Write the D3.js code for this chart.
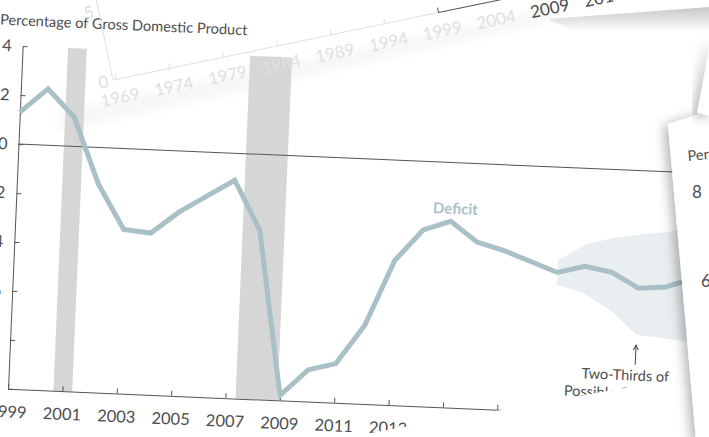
<!DOCTYPE html>
<html><head><meta charset="utf-8">
<script src="https://cdn.jsdelivr.net/npm/d3@7/dist/d3.min.js"></script>
<style>
html,body{margin:0;padding:0;background:#fff;overflow:hidden}
svg{display:block;font-family:Lato,"Open Sans",sans-serif}
</style></head><body>
<svg id="c" width="709" height="437"></svg>
<script>
// ---- data ----
const years   = [1999,2000,2001,2002,2003,2004,2005,2006,2007,2008,2009,2010,2011,2012,2013,2014,2015,2016,2017,2018,2019,2020,2021,2022,2023,2024];
const deficit = [1.3,2.3,1.2,-1.5,-3.3,-3.4,-2.5,-1.8,-1.1,-3.1,-9.8,-8.7,-8.4,-6.8,-4.1,-2.8,-2.4,-3.2,-3.5,-3.9,-4.3,-4.0,-4.2,-4.8,-4.7,-4.3];
const bandYears = [2019,2020,2021,2022,2023,2024];
const bandHigh  = [-3.8,-3.1,-2.8,-2.6,-2.45,-2.2];
const bandLow   = [-4.8,-5.1,-5.75,-6.7,-6.8,-6.9];
const recessionStart = [2000.67,2007.37];
const recessionEnd   = [2001.36,2008.91];
const xTicks = [1999,2001,2003,2005,2007,2009,2011,2013,2015,2017,2019,2021,2023,2025,2027];
const yTicks = [4,2,0,-2,-4,-6,-8,-10];
const backYears = [1969,1974,1979,1984,1989,1994,1999,2004,2009,2014];
const backYTicks = [0,5];

const svg = d3.select("#c");
const defs = svg.append("defs");
const f = defs.append("filter").attr("id","ds").attr("x","-30%").attr("y","-20%").attr("width","160%").attr("height","140%");
f.append("feDropShadow").attr("dx",-4).attr("dy",2).attr("stdDeviation",6).attr("flood-color","#000").attr("flood-opacity",0.3);
defs.append("filter").attr("id","bl").append("feGaussianBlur").attr("stdDeviation",5);

svg.append("rect").attr("width",709).attr("height",437).attr("fill","#fff");

// subtle tint of the sheet behind (top-left)
svg.append("path").attr("d","M58,132 L550,22 L550,8 L58,112 Z")
  .attr("fill","#000").attr("opacity",0.03).attr("filter","url(#bl)");

// ---- main chart ----
const g = svg.append("g").attr("transform","translate(18.5,144) rotate(2.45)");
const x = d3.scaleLinear().domain([1999,2029]).range([0,30*27.2]);
const y = d3.scaleLinear().domain([-10,4]).range([245,-98]);
const txt = "#4d4d4d";

// recession bars
g.selectAll("rect.rec").data(recessionStart).join("rect")
  .attr("x",(d)=>x(d)).attr("y",y(4))
  .attr("width",(d,i)=>x(recessionEnd[i])-x(d))
  .attr("height",y(-10)-y(4)).attr("fill","#d6d6d6");

// band
const band = bandYears.map((yr,i)=>({yr,hi:bandHigh[i],lo:bandLow[i]}));
g.append("path").datum(band)
  .attr("d",d3.area().x(d=>x(d.yr)).y0(d=>y(d.lo)).y1(d=>y(d.hi)).curve(d3.curveLinear))
  .attr("fill","#e9eef0");

// zero line
g.append("line").attr("x1",x(1999)).attr("x2",x(2027)).attr("y1",y(0)).attr("y2",y(0))
  .attr("stroke","#555").attr("stroke-width",1);

// axes
const fmt = d => d<0 ? "\u2212"+Math.abs(d) : String(d);
const ya = g.append("g").call(d3.axisLeft(y).tickValues(yTicks).tickSize(-5).tickSizeOuter(0).tickPadding(11).tickFormat(fmt));
const xa = g.append("g").attr("transform",`translate(0,${y(-10)})`)
  .call(d3.axisBottom(x).tickValues(xTicks).tickSize(-5).tickSizeOuter(0).tickPadding(17).tickFormat(d3.format("d")));
[ya,xa].forEach(a=>{
  a.selectAll("path,line").attr("stroke","#555");
  a.selectAll("text").attr("fill",txt).attr("font-size",16.5).attr("font-family","Lato");
});

// line
const pts = years.map((yr,i)=>({yr,v:deficit[i]}));
g.append("path").datum(pts)
  .attr("d",d3.line().x(d=>x(d.yr)).y(d=>y(d.v)))
  .attr("fill","none").attr("stroke","#a9c1c6").attr("stroke-width",5).attr("stroke-linejoin","miter");

// labels
g.append("text").attr("x",-23.6).attr("y",-118.5).attr("fill",txt).attr("font-size",14.6)
  .text("Percentage of Gross Domestic Product");
g.append("text").attr("x",x(2015.15)).attr("y",y(-2.09)).attr("text-anchor","middle")
  .attr("fill","#a9c1c6").attr("font-weight","bold").attr("font-size",15).text("Deficit");
g.append("line").attr("x1",x(2022)).attr("x2",x(2022)).attr("y1",y(-7.12)).attr("y2",y(-7.93))
  .attr("stroke","#444").attr("stroke-width",1);
g.append("path").attr("d",`M${x(2022)-2.5},${y(-7.12)+5} L${x(2022)},${y(-7.12)} L${x(2022)+2.5},${y(-7.12)+5}`)
  .attr("fill","none").attr("stroke","#444").attr("stroke-width",1);
const ann = g.append("text").attr("x",x(2021.65)).attr("y",y(-8.57)).attr("text-anchor","middle")
  .attr("fill",txt).attr("font-size",14.5);
ann.append("tspan").attr("x",x(2021.65)).text("Two-Thirds of");
ann.append("tspan").attr("x",x(2021.65)).attr("dy",18).text("Possible Outcomes");

// ---- faint sheet (1969 chart) over the top-left ----
const bg = svg.append("g").attr("transform","translate(113,80) rotate(-11.7)");
const bx = d3.scaleLinear().domain([1969,2014]).range([3.4,3.4+45*10.97]);
const by = d3.scaleLinear().domain([0,5]).range([0,-71]);
const faint = "#e0e0e0";
bg.append("line").attr("x1",0).attr("y1",0).attr("x2",0).attr("y2",-110).attr("stroke",faint);
bg.append("line").attr("x1",0).attr("y1",0).attr("x2",bx(1999)).attr("y2",0).attr("stroke",faint);
bg.selectAll("line.bt").data(backYears.filter(d=>d<1999)).join("line")
  .attr("x1",d=>bx(d)).attr("x2",d=>bx(d)).attr("y1",0).attr("y2",-5).attr("stroke",faint);
bg.selectAll("text.by").data(backYTicks).join("text")
  .attr("x",-5).attr("y",d=>by(d)+6).attr("text-anchor","end").attr("font-size",17).attr("fill",faint).text(d=>d);
bg.selectAll("text.bx").data(backYears.filter(d=>d<2009)).join("text")
  .attr("x",d=>bx(d)).attr("y",24.5).attr("text-anchor","middle").attr("font-size",17).attr("fill",faint).text(d=>d);

// dark part of that sheet at top right
const bg2 = svg.append("g").attr("transform","translate(113,80) rotate(-11.7)");
bg2.append("line").attr("x1",bx(1999)).attr("y1",0).attr("x2",bx(2014)+40).attr("y2",0).attr("stroke","#555");
bg2.append("line").attr("x1",bx(1999)).attr("x2",bx(1999)).attr("y1",0).attr("y2",-5).attr("stroke","#555");
bg2.selectAll("text").data(backYears.filter(d=>d>=2009)).join("text")
  .attr("x",d=>bx(d)).attr("y",24.5).attr("text-anchor","middle").attr("font-size",17).attr("fill","#4a4a4a").text(d=>d);

// shadow under the lifted top sheet
const lg = defs.append("linearGradient").attr("id","sh").attr("x1",0).attr("y1",0).attr("x2",0).attr("y2",1);
lg.append("stop").attr("offset",0).attr("stop-color","#000").attr("stop-opacity",0.22);
lg.append("stop").attr("offset",1).attr("stop-color","#000").attr("stop-opacity",0);
svg.append("path").attr("d","M548,19 L709,7 L709,30 L575,32 Z").attr("fill","url(#sh)");

// ---- bottom-right cover sheet ----
svg.append("path").attr("d","M330,440 L490,412 L607,391 L709,374 L709,440 Z").attr("fill","#fff");

// ---- right sheet ----
svg.append("path").attr("d","M668,124 L712,110 L712,440 L696,440 Z").attr("fill","#fff").attr("filter","url(#ds)");
svg.append("path").attr("d","M712,36 L697,113 L712,116 Z").attr("fill","#fff").attr("filter","url(#ds)");
svg.append("text").attr("x",688).attr("y",161).attr("font-size",14.5).attr("fill",txt).attr("transform","rotate(-5,688,161)").text("Percentage");
svg.append("text").attr("x",692).attr("y",198).attr("font-size",17).attr("fill",txt).text("8");
svg.append("text").attr("x",701).attr("y",287).attr("font-size",17).attr("fill",txt).text("6");
</script>
</body></html>
